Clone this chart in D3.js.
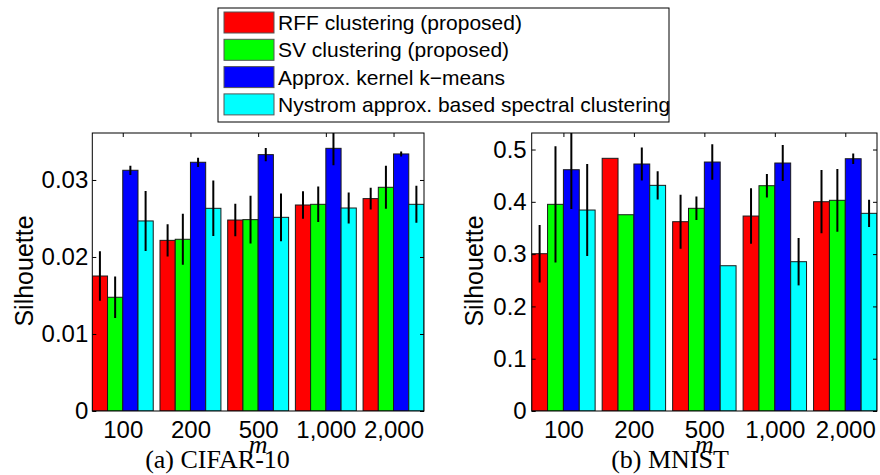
<!DOCTYPE html>
<html><head><meta charset="utf-8">
<script src="https://cdn.jsdelivr.net/npm/d3@7"></script>
<style>body{margin:0;background:#fff}svg{display:block}</style>
</head><body>
<svg id="chart" width="880" height="475"></svg>
<script>
const categories = ["100", "200", "500", "1,000", "2,000"];
const seriesNames = ["RFF clustering (proposed)", "SV clustering (proposed)", "Approx. kernel k\u2212means", "Nystrom approx. based spectral clustering"];
const seriesColors = ["#ff0000", "#00ff00", "#0000ff", "#00ffff"];

// CIFAR-10 silhouette (mean, error) per series, per m
const cifarRFF = [0.01753, 0.02216, 0.02480, 0.02675, 0.02758];
const cifarSV = [0.01477, 0.02230, 0.02485, 0.02684, 0.02905];
const cifarAKK = [0.03126, 0.03230, 0.03329, 0.03411, 0.03338];
const cifarNys = [0.02468, 0.02632, 0.02515, 0.02636, 0.02684];
const cifarRFFErr = [0.0032, 0.0021, 0.0021, 0.0018, 0.0014];
const cifarSVErr = [0.0027, 0.0033, 0.0031, 0.0023, 0.0028];
const cifarAKKErr = [0.0006, 0.0006, 0.00087, 0.0022, 0.00033];
const cifarNysErr = [0.0039, 0.0036, 0.0031, 0.0020, 0.0024];
const cifarTicks = [0, 0.01, 0.02, 0.03];

// MNIST silhouette
const mnistRFF = [0.3008, 0.4832, 0.3620, 0.3728, 0.4002];
const mnistSV = [0.3952, 0.3753, 0.3876, 0.4308, 0.4029];
const mnistAKK = [0.4614, 0.4723, 0.4761, 0.4742, 0.4824];
const mnistNys = [0.3843, 0.4315, 0.2778, 0.2855, 0.3780];
const mnistRFFErr = [0.055, 0, 0.0516, 0.053, 0.0605];
const mnistSVErr = [0.111, 0, 0.0226, 0.0223, 0.060];
const mnistAKKErr = [0.075, 0.0316, 0.0338, 0.0344, 0.0101];
const mnistNysErr = [0.088, 0.027, 0, 0.0453, 0.026];
const mnistTicks = [0, 0.1, 0.2, 0.3, 0.4, 0.5];

const svg = d3.select("#chart");
const sans = "'Liberation Sans', Arial, Helvetica, sans-serif";
const serif = "'Liberation Serif', 'Times New Roman', serif";

function panel(cfg) {
  const {x0, x1, y0, y1, ymax, vals, errs, ticks, fmt, id, ylabX, title, titleX, tickPad} = cfg;
  const x = d3.scaleLinear().domain([0.55, 5.45]).range([x0, x1]);
  const y = d3.scaleLinear().domain([0, ymax]).range([y1, y0]);
  const g = svg.append("g");
  g.append("defs").append("clipPath").attr("id", id)
    .append("rect").attr("x", x0).attr("y", y0).attr("width", x1 - x0).attr("height", y1 - y0);
  const bw = 0.225;
  const plot = g.append("g").attr("clip-path", `url(#${id})`);
  vals.forEach((arr, s) => {
    arr.forEach((v, i) => {
      const c = i + 1 + (s - 1.5) * bw;
      plot.append("rect")
        .attr("x", x(c - bw / 2)).attr("width", x(c + bw / 2) - x(c - bw / 2))
        .attr("y", y(v)).attr("height", y(0) - y(v))
        .attr("fill", seriesColors[s]).attr("stroke", "#1a1a1a").attr("stroke-width", 1);
    });
  });
  vals.forEach((arr, s) => {
    arr.forEach((v, i) => {
      const e = errs[s][i];
      if (!e) return;
      const c = i + 1 + (s - 1.5) * bw;
      plot.append("line").attr("x1", x(c)).attr("x2", x(c))
        .attr("y1", y(v - e)).attr("y2", y(v + e))
        .attr("stroke", "#000").attr("stroke-width", 2);
    });
  });
  // box
  g.append("rect").attr("x", x0).attr("y", y0).attr("width", x1 - x0).attr("height", y1 - y0)
    .attr("fill", "none").attr("stroke", "#000").attr("stroke-width", 1);
  // axes
  const ax = g.append("g").attr("transform", `translate(${x0},0)`)
    .call(d3.axisLeft(y).tickValues(ticks).tickFormat(fmt).tickSize(-4).tickPadding(tickPad));
  const axr = g.append("g").attr("transform", `translate(${x1},0)`)
    .call(d3.axisRight(y).tickValues(ticks).tickFormat("").tickSize(-4));
  const axt = g.append("g").attr("transform", `translate(0,${y0})`)
    .call(d3.axisTop(x).tickValues([1, 2, 3, 4, 5]).tickFormat("").tickSize(-4));
  const axb = g.append("g").attr("transform", `translate(0,${y1})`)
    .call(d3.axisBottom(x).tickValues([1, 2, 3, 4, 5]).tickFormat((d, i) => categories[i]).tickSize(0).tickPadding(10));
  [ax, axr, axt, axb].forEach(a => {
    a.select(".domain").remove();
    a.selectAll("line").attr("stroke", "#000");
    a.selectAll("text").attr("font-family", sans).attr("font-size", 24).attr("fill", "#000");
  });
  // y label
  g.append("text").attr("transform", `translate(${ylabX},271) rotate(-90)`)
    .attr("text-anchor", "middle").attr("font-family", sans).attr("font-size", 25).text("Silhouette");
  // m label
  g.append("text").attr("x", (x0 + x1) / 2).attr("y", 453).attr("text-anchor", "middle")
    .attr("font-family", serif).attr("font-style", "italic").attr("font-size", 26).text("m");
  // title
  g.append("text").attr("x", titleX).attr("y", 468).attr("text-anchor", "middle")
    .attr("font-family", serif).attr("font-size", 26).text(title);
}

panel({x0: 92.3, x1: 424, y0: 133, y1: 411, ymax: 0.0361,
  vals: [cifarRFF, cifarSV, cifarAKK, cifarNys], errs: [cifarRFFErr, cifarSVErr, cifarAKKErr, cifarNysErr],
  ticks: cifarTicks, fmt: d => d === 0 ? "0" : d3.format(".2f")(d), id: "clipA", ylabX: 33,
  title: "(a) CIFAR-10", titleX: 217.5, tickPad: 4});
panel({x0: 531.7, x1: 877, y0: 133, y1: 411, ymax: 0.5316,
  vals: [mnistRFF, mnistSV, mnistAKK, mnistNys], errs: [mnistRFFErr, mnistSVErr, mnistAKKErr, mnistNysErr],
  ticks: mnistTicks, fmt: d => d === 0 ? "0" : d3.format(".1f")(d), id: "clipB", ylabX: 483,
  title: "(b) MNIST", titleX: 670, tickPad: 5});

// legend
const lg = svg.append("g");
lg.append("rect").attr("x", 218).attr("y", 8).attr("width", 451).attr("height", 114)
  .attr("fill", "#fff").attr("stroke", "#000").attr("stroke-width", 1);
seriesNames.forEach((n, i) => {
  const cy = 22.5 + i * 27.3;
  lg.append("rect").attr("x", 224).attr("y", cy - 10.5).attr("width", 50).attr("height", 21)
    .attr("fill", seriesColors[i]).attr("stroke", "#555").attr("stroke-width", 1);
  lg.append("text").attr("x", 278).attr("y", cy + 7.5).attr("font-family", sans).attr("font-size", 21).text(n);
});
</script>
</body></html>
